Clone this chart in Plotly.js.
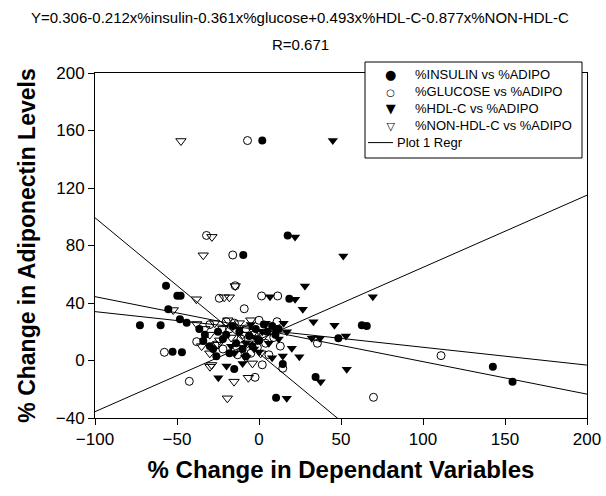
<!DOCTYPE html>
<html>
<head>
<meta charset="utf-8">
<script src="https://cdn.plot.ly/plotly-3.0.1.min.js"></script>
<style>html,body{margin:0;padding:0;background:#fff;}#chart{width:606px;height:496px;}</style>
</head>
<body>
<div id="chart"></div>
<script>
// ---- data ----
var insulinX = [2, 17.5, -9.6, -56.7, -49.8, -47.8, 18.5, -55.3, -48.2, -44.1, -72.6, -60, -36.4, -34, -52.7, -47, -15.1, 10.4, 34.5, 14.5, 48.4, 62.7, 65.7, 142.6, 154.6,
  -30, -28, -22, -20, -18, -14, -12, -10, -8, -6, -4, -2, 0, 3, 5, 8, 10, 12, -25, -16, -33, -26];
var insulinY = [153, 87, 73.4, 52, 45, 45, 43, 35.6, 28.7, 26.3, 24.5, 24.5, 21.9, 13.6, 6.1, 5.7, -5.9, -25.9, -11.5, -2.4, 15.4, 24.5, 24, -4.3, -14.7,
  10, 8, 15, 18, 5, 12, 20, 8, 3, 17, 10, 22, 14, 25, 20, 24, 18, 22, 20, 24, 18, 3];

var glucoseX = [-7, -32, -16, -14.5, -24.2, 1.6, 11.4, -9, -38, -57.7, -42.5, -2.4, 14.5, 35.6, 111, 69.8, -26.8,
  -30, -22, -18, -15, -11, -8, -5, -3, 0, 2, 4, 6, 9, 11, 13, -13, -1, 7, -20];
var glucoseY = [153, 87, 73.4, 52, 43.3, 44.9, 44.9, 36, 13.1, 5.7, -14.5, -11.7, -5.4, 12, 3.4, -25.6, 10.8,
  25, 8, 22, 26, 15, 22, 5, 18, 28, -3, 12, 4, 16, 27, 10, 4, 9, 23, 27];

var hdlX = [45, 22, 51.4, 28, 6.7, 22, 26.7, 69.4, 33.2, 46, 53, 32.2, 37.2, 20, 24.6, 14.5, 53.5, 37.6, 16.9, -24.8, -19.8, -15,
  -12, -8, -5, -2, 0, 2, 4, 6, 8, 10, 12, 15, 17, -10, -17, -3];
var hdlY = [153, 86, 72.7, 51.8, 44.4, 42.6, 35.6, 44.4, 27, 24.5, 17, 15.4, 15.4, 8.5, 2.6, 3.1, -6.1, -14.7, -26.3, -12, -3.8, 5,
  22, 12, 25, 16, 6, 20, 26, 12, 2, 22, 15, 26, 20, -2, 10, 8];

var nonHdlX = [-47.6, -28.7, -34, -14.5, -38.2, -21.2, -18.1, -52.3, -38, -29.9, -19.3, -15.2, -6.5, -28.9, -25,
  -33, -30, -27, -24, -22, -19, -17, -14, -12, -10, -7, -5, -3, -1, 1, 3, 5, -8, -4, -30, -35];
var nonHdlY = [152.7, 86, 73.2, 51.8, 42.6, 44, 44, 35.1, 25.4, -4.3, -26.3, -14.7, -12, -3.1, 11,
  22, 18, 26, 14, 22, 28, 16, 9, 26, 18, 12, 28, 20, 14, 5, 17, 24, 2, -2, 5, 10];

// regression lines (intercept, slope) as drawn in the reference
var regIntercepts = [5.0, 14.6, 21.8, 21.6];
var regSlopes = [-0.943, 0.502, -0.226, -0.124];
var regX = [-100, 200];

var seriesNames = ["%INSULIN vs %ADIPO", "%GLUCOSE vs %ADIPO", "%HDL-C vs %ADIPO", "%NON-HDL-C vs %ADIPO"];
var seriesGlyphs = ["\u25CF", "\u25CB", "\u25BC", "\u25BD"];
var glyphSizes = [13, 10, 13, 11];
var regrName = "Plot 1 Regr";

var titleLine1 = "Y=0.306-0.212x%insulin-0.361x%glucose+0.493x%HDL-C-0.877x%NON-HDL-C";
var titleLine2 = "R=0.671";

// ---- geometry helpers (plot area 95..587 x 73..418 px) ----
var PL = 95, PR = 587, PT = 73, PB = 418;
function px(x) { return (x - PL) / (PR - PL); }
function py(y) { return (PB - y) / (PB - PT); }

// ---- traces ----
var FONT = "Liberation Sans, Arial, sans-serif";
var traces = [
  {x: insulinX, y: insulinY, mode: "markers", type: "scatter", name: seriesNames[0],
   marker: {symbol: "circle", size: 8, color: "#000"}},
  {x: glucoseX, y: glucoseY, mode: "markers", type: "scatter", name: seriesNames[1],
   marker: {symbol: "circle-open", size: 8, color: "#000", line: {width: 1, color: "#000"}}},
  {x: hdlX, y: hdlY, mode: "markers", type: "scatter", name: seriesNames[2],
   marker: {symbol: "triangle-down", size: 9, color: "#000"}},
  {x: nonHdlX, y: nonHdlY, mode: "markers", type: "scatter", name: seriesNames[3],
   marker: {symbol: "triangle-down-open", size: 9, color: "#000", line: {width: 1, color: "#000"}}}
];
regIntercepts.forEach(function (b, i) {
  traces.push({
    x: regX, y: regX.map(function (v) { return b + regSlopes[i] * v; }),
    mode: "lines", type: "scatter", name: regrName,
    showlegend: false, line: {color: "#000", width: 1}, hoverinfo: "skip"
  });
});

// ---- hand-built legend box: one text block, one glyph block ----
var LEG_FS = 13;
var lineH = LEG_FS * 1.3;
var firstRow = 75;
var nb = "&nbsp;&nbsp;&nbsp;&nbsp;&nbsp;";
var legendText = seriesNames.map(function (n) { return nb + n; }).concat([regrName]).join("<br>");
var nRows = seriesNames.length + 1;
var blockCenter = firstRow + lineH * (nRows - 1) / 2;
var glyphCenter = firstRow + lineH * (seriesGlyphs.length - 1) / 2;
var lastRow = firstRow + lineH * (nRows - 1);
var glyphText = seriesGlyphs.map(function (g, i) {
  return '<span style="font-size:' + glyphSizes[i] + 'px">' + g + '</span>';
}).join("<br>");

var annotations = [
  {xref: "paper", yref: "paper", x: px(300), y: py(18), text: titleLine1, showarrow: false,
   font: {size: 15}, xanchor: "center", yanchor: "middle"},
  {xref: "paper", yref: "paper", x: px(300), y: py(45), text: titleLine2, showarrow: false,
   font: {size: 15}, xanchor: "center", yanchor: "middle"},
  {xref: "paper", yref: "paper", x: px(395), y: py(blockCenter), text: legendText, align: "left",
   showarrow: false, xanchor: "left", yanchor: "middle", font: {size: LEG_FS}},
  {xref: "paper", yref: "paper", x: px(390), y: py(glyphCenter), text: glyphText,
   align: "center", showarrow: false, xanchor: "center", yanchor: "middle",
   font: {family: "DejaVu Sans", size: LEG_FS}}
];
var shapes = [
  {type: "rect", xref: "paper", yref: "paper", x0: px(365), x1: px(582), y0: py(158), y1: py(62),
   line: {color: "#000", width: 1}, fillcolor: "#fff", layer: "above"},
  {type: "line", xref: "paper", yref: "paper", x0: px(368), x1: px(393),
   y0: py(lastRow), y1: py(lastRow), line: {color: "#000", width: 1}, layer: "above"}
];

var layout = {
  width: 606, height: 496,
  margin: {l: PL, r: 606 - PR, t: PT, b: 496 - PB},
  paper_bgcolor: "#fff", plot_bgcolor: "#fff",
  font: {family: FONT, color: "#000", size: 14},
  showlegend: false,
  xaxis: {range: [-100, 200], dtick: 50, tick0: 0, showgrid: false, zeroline: false,
    showline: true, linecolor: "#000", linewidth: 1, mirror: true,
    ticks: "outside", ticklen: 6, tickcolor: "#000", tickfont: {size: 17},
    title: {text: "<b>% Change in Dependant Variables</b>", font: {size: 24}, standoff: 12}},
  yaxis: {range: [-40, 200], dtick: 40, tick0: 0, showgrid: false, zeroline: false,
    showline: true, linecolor: "#000", linewidth: 1, mirror: true,
    ticks: "outside", ticklen: 6, tickcolor: "#000", tickfont: {size: 17},
    title: {text: "<b>% Change in Adiponectin Levels</b>", font: {size: 23}, standoff: 13}},
  annotations: annotations,
  shapes: shapes
};

Plotly.newPlot("chart", traces, layout, {displayModeBar: false, staticPlot: true});
</script>
</body>
</html>
